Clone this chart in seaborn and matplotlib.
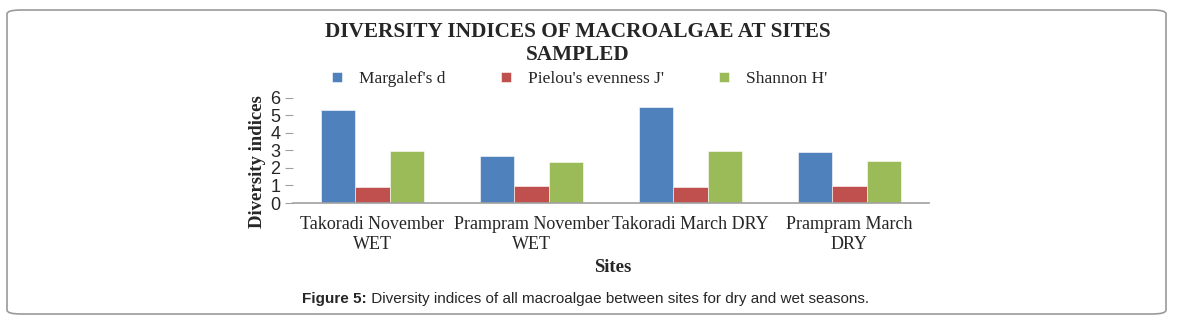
import numpy as np
import pandas as pd
import matplotlib.pyplot as plt
import seaborn as sns
from matplotlib.patches import FancyBboxPatch

# values
sites = ["Takoradi November\nWET", "Prampram November\nWET",
         "Takoradi March DRY", "Prampram March\nDRY"]
margalef = [5.30, 2.69, 5.45, 2.91]
pielou = [0.91, 0.97, 0.91, 0.97]
shannon = [2.95, 2.35, 2.99, 2.40]
series = ["Margalef's d", "Pielou's evenness J'", "Shannon H'"]
colors = ["#4F81BD", "#C0504D", "#9BBB59"]

df = pd.DataFrame({"Sites": sites * 3,
                   "value": margalef + pielou + shannon,
                   "index": np.repeat(series, len(sites))})

sns.set_style("white")
plt.rcParams['font.family'] = ['Liberation Serif', 'DejaVu Serif']

W, H = 1180, 323
fig = plt.figure(figsize=(W / 100, H / 100), dpi=100)
ax = fig.add_axes([293 / W, 1 - 203 / H, (929 - 293) / W, (203 - 97.7) / H])

sns.barplot(data=df, x="Sites", y="value", hue="index", palette=colors,
            width=0.65, gap=0, saturation=1, ax=ax, legend=True,
            edgecolor="white", linewidth=0.4)

ax.set_ylim(0, 6)
ax.set_yticks(range(0, 7))
ax.set_xlim(-0.5, 3.5)
for s in ["top", "right", "left"]:
    ax.spines[s].set_visible(False)
ax.spines["bottom"].set_color("#A0A0A0")
ax.spines["bottom"].set_linewidth(1.2)
ax.tick_params(axis="y", left=True, length=6, width=0.8, color="#A0A0A0",
               pad=3, labelsize=13)
for lab in ax.get_yticklabels():
    lab.set_family(["Liberation Sans", "DejaVu Sans"])
ax.tick_params(axis="x", bottom=False, labelsize=13, pad=6)
ax.set_xlabel("")
ax.set_ylabel("")

ax.legend(loc="center", bbox_to_anchor=(0.451, 1.175), ncol=3, frameon=False,
          fontsize=12.5, handlelength=0.55, handleheight=0.55,
          handletextpad=1.0, columnspacing=3.2)

fig.text(578 / W, 1 - 32 / H, "DIVERSITY INDICES OF MACROALGAE AT SITES",
         ha="center", va="center", fontsize=15.3, fontweight="bold")
fig.text(578 / W, 1 - 55 / H, "SAMPLED",
         ha="center", va="center", fontsize=15.3, fontweight="bold")

fig.text(257 / W, 1 - 162 / H, "Diversity indices", rotation=90,
         ha="center", va="center", fontsize=13.5, fontweight="bold")
fig.text(613 / W, 1 - 268 / H, "Sites", ha="center", va="center",
         fontsize=13.5, fontweight="bold")

t1 = fig.text(302 / W, 1 - 299 / H, "Figure 5:", ha="left", va="center",
              fontsize=11, fontweight="bold",
              family=["Liberation Sans", "DejaVu Sans"])
ax.annotate(" Diversity indices of all macroalgae between sites for dry and wet seasons.",
            xy=(1, 0), xycoords=t1, ha="left", va="bottom", fontsize=11,
            family=["Liberation Sans", "DejaVu Sans"], annotation_clip=False)

box = FancyBboxPatch((7 / W, 9 / H), (1166 - 7) / W, (313 - 9) / H,
                     boxstyle="round,pad=0,rounding_size=0.012",
                     transform=fig.transFigure, facecolor="none",
                     edgecolor="#9A9A9A", linewidth=1.2)
fig.patches.append(box)

fig.savefig("out.png", dpi=100)
